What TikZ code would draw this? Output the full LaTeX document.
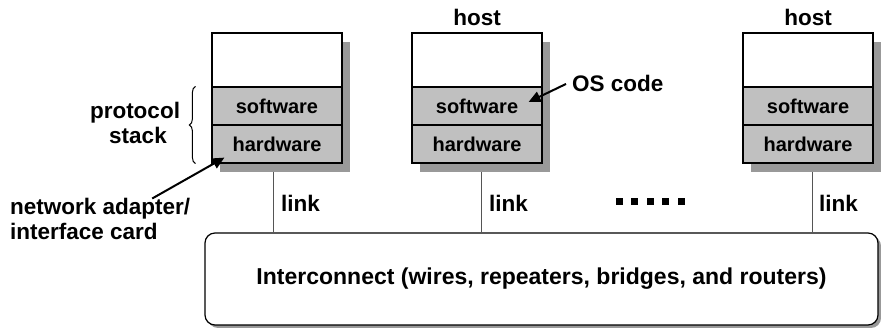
\documentclass[tikz,border=0pt]{standalone}
\usepackage{fontspec}
\setmainfont{Liberation Sans}
\usetikzlibrary{arrows.meta,decorations.pathreplacing,calc,shadows,backgrounds}
\definecolor{boxgray}{HTML}{C0C0C0}
\definecolor{shadegray}{HTML}{999999}
\definecolor{linkgray}{HTML}{555555}
\begin{document}
\begin{tikzpicture}[x=1pt,y=-1pt,
  sect/.style={draw=black, line width=1.2pt, minimum width=130pt, inner sep=0pt,
    font=\fontsize{20}{24}\selectfont\bfseries,
    drop shadow={shadow xshift=8pt, shadow yshift=-9pt, fill=shadegray, opacity=1}},
  topsect/.style={sect, fill=white, minimum height=54pt},
  graysect/.style={sect, fill=boxgray, minimum height=38pt},
  lbl/.style={inner sep=0pt, font=\fontsize{22.5}{26}\selectfont\bfseries},
  linkline/.style={draw=linkgray, line width=1pt},
  arr/.style={line width=2pt, -{Triangle[length=12pt,width=11pt]}},
  dotsq/.style={fill=black, minimum size=7pt, inner sep=0pt}
]
\useasboundingbox (0,0) rectangle (881,328);

% interconnect
\node[draw=black, line width=1.2pt, rounded corners=10pt, fill=white,
      minimum width=673pt, minimum height=92pt, inner sep=0pt,
      font=\fontsize{23}{26}\selectfont\bfseries,
      drop shadow={shadow xshift=3pt, shadow yshift=-3pt, fill=shadegray, opacity=1}]
  (ic) at (541.5,279) {Interconnect (wires, repeaters, bridges, and routers)};

% hosts
\foreach \i/\x in {1/277, 2/477, 3/808} {
  \node[topsect]  (h\i top) at (\x,60)  {};
  \node[graysect] (h\i sw)  at (\x,106) {software};
  \node[graysect] (h\i hw)  at (\x,144) {hardware};
}

% links (behind shadows)
\begin{scope}[on background layer]
  \draw[linkline] ([xshift=-4pt]h1hw.south) -- ([xshift=-4pt]h1hw.south |- ic.north);
  \draw[linkline] ([xshift=4pt]h2hw.south) -- ([xshift=4pt]h2hw.south |- ic.north);
  \draw[linkline] ([xshift=4pt]h3hw.south) -- ([xshift=4pt]h3hw.south |- ic.north);
\end{scope}

\node[lbl, anchor=base west] (l1) at (281,212) {link};
\node[lbl, anchor=base west] (l2) at (489,212) {link};
\node[lbl, anchor=base west] (l3) at (819,212) {link};

% host labels
\node[lbl, anchor=base] (hl2) at (h2top.north |- 0,26) {host};
\node[lbl, anchor=base] (hl3) at (h3top.north |- 0,26) {host};

% dots
\foreach \k in {0,...,4} {
  \node[dotsq] (d\k) at (619+15.5*\k,202) {};
}

% OS code
\node[lbl, anchor=base west] (os) at (572,92) {OS code};
\draw[arr] ([xshift=-6pt]os.west) -- ([shift={(-14pt,4pt)}]h2sw.east);

% protocol stack
\node[lbl, anchor=base] (ps1) at (135,119) {protocol};
\node[lbl, anchor=base] (ps2) at (138,144) {stack};
\draw[line width=1pt, decorate, decoration={brace, amplitude=6pt}]
  ([xshift=-16pt]h1hw.south west) -- ([xshift=-16pt]h1sw.north west);

% network adapter
\node[lbl, anchor=base west] (na1) at (10,215) {network adapter/};
\node[lbl, anchor=base west] (na2) at (10,240) {interface card};
\draw[arr] ([xshift=52pt]na1.north) -- ([shift={(13pt,6pt)}]h1hw.south west);
\end{tikzpicture}
\end{document}
